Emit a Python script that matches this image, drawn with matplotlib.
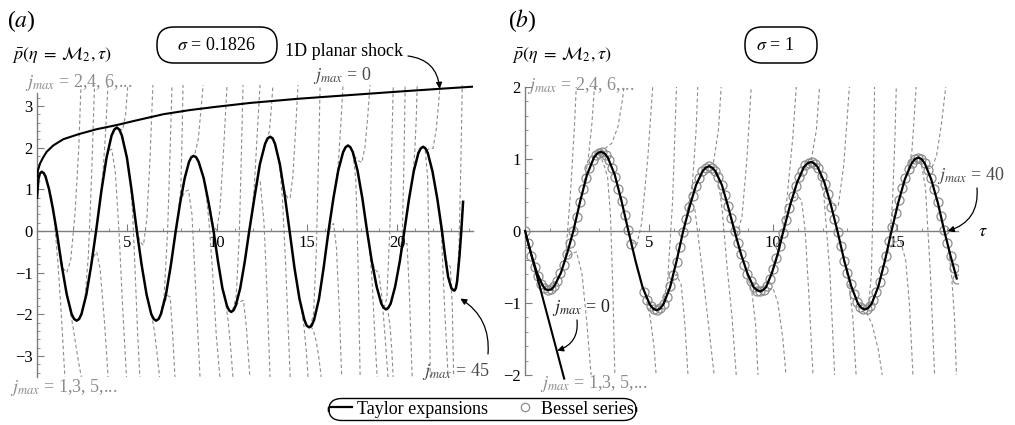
import matplotlib.pyplot as plt
from matplotlib.patches import FancyBboxPatch
from matplotlib.lines import Line2D
from matplotlib.ticker import MultipleLocator, FixedLocator

plt.rcParams['font.family'] = ['Liberation Serif', 'DejaVu Serif']
plt.rcParams['mathtext.fontset'] = 'stix'

# ---- panel (a): sigma = 0.1826, Taylor expansion j_max = 45
tau_a = [0, 0.08, 0.16, 0.26, 0.37, 0.47, 0.67, 0.88, 1.09, 1.37, 1.65, 1.92, 2.06, 2.2, 2.34,
         2.47, 2.74, 3.01, 3.28, 3.57, 3.86, 4.14, 4.29, 4.43, 4.57, 4.71, 4.99, 5.26, 5.54,
         5.81, 6.08, 6.34, 6.48, 6.61, 6.75, 6.88, 7.16, 7.43, 7.7, 7.95, 8.2, 8.44, 8.57, 8.69,
         8.83, 8.97, 9.25, 9.52, 9.8, 10.05, 10.29, 10.54, 10.66, 10.78, 10.91, 11.03, 11.28,
         11.53, 11.78, 12.09, 12.37, 12.66, 12.8, 12.94, 13.08, 13.21, 13.48, 13.75, 14.02,
         14.29, 14.57, 14.84, 14.97, 15.11, 15.24, 15.38, 15.65, 15.91, 16.18, 16.45, 16.72,
         16.99, 17.13, 17.26, 17.39, 17.53, 17.79, 18.06, 18.32, 18.58, 18.85, 19.11, 19.24,
         19.37, 19.5, 19.63, 19.88, 20.14, 20.39, 20.65, 20.91, 21.17, 21.3, 21.43, 21.56,
         21.69, 21.95, 22.22, 22.48, 22.65, 22.82, 23.0, 23.09, 23.17, 23.25, 23.32, 23.45,
         23.55, 23.65]
p_a = [0.80, 1.25, 1.38, 1.42, 1.39, 1.31, 1.0, 0.54, 0, -0.82, -1.52, -1.99, -2.11, -2.15, -2.11,
       -1.99, -1.52, -0.82, 0, 0.95, 1.76, 2.29, 2.43, 2.48, 2.43, 2.29, 1.76, 0.95, 0,
       -0.82, -1.52, -1.99, -2.11, -2.15, -2.11, -1.99, -1.52, -0.82, 0, 0.69, 1.27, 1.66, 1.77, 1.80,
       1.77, 1.66, 1.27, 0.69, 0, -0.74, -1.37, -1.79, -1.90, -1.94, -1.90, -1.79, -1.37,
       -0.74, 0, 0.86, 1.60, 2.09, 2.22, 2.26, 2.22, 2.09, 1.60, 0.86, 0,
       -0.88, -1.63, -2.13, -2.27, -2.31, -2.27, -2.13, -1.63, -0.88, 0, 0.78, 1.45,
       1.89, 2.01, 2.05, 2.01, 1.89, 1.45, 0.78, 0, -0.72, -1.33, -1.74, -1.84,
       -1.88, -1.84, -1.74, -1.33, -0.72, 0, 0.77, 1.43, 1.87, 1.98, 2.02, 1.98,
       1.87, 1.43, 0.77, 0, -0.6, -1.1, -1.37, -1.41, -1.43, -1.37, -1.2, -0.6,
       0.0, 0.70]

# 1D planar shock (j_max = 0)
tau_shock = [0, 0.05, 0.17, 0.35, 0.54, 0.9, 1.46, 2.3, 3.31, 4.43, 5.5, 7.02, 8.5, 9.8,
             11.83, 14.5, 17.4, 20.0, 22.4, 24.2]
p_shock = [1.3, 1.45, 1.62, 1.77, 1.9, 2.05, 2.2, 2.32, 2.44, 2.54, 2.65, 2.80, 2.90, 2.97,
           3.07, 3.17, 3.26, 3.34, 3.41, 3.46]

# lower order truncations, even j_max (diverge upwards)
trunc_a_up = [
    [(1.24, -0.45), (1.46, -0.9), (1.65, -1.0), (1.87, -0.7), (2.11, 0.42), (2.32, 2.0), (2.45, 3.6)],
    [(2.45, -2.02), (2.65, -1.7), (2.85, -0.6), (3.02, 1.2), (3.2, 3.6)],
    [(3.5, 0.75), (3.65, 1.35), (3.8, 2.3), (3.95, 3.6)],
    [(4.55, 2.45), (4.75, 2.42), (4.92, 2.8), (5.06, 3.6)],
    [(5.45, 0.3), (5.7, -0.25), (5.91, -0.34), (6.1, 0.3), (6.28, 1.8), (6.44, 3.6)],
    [(6.85, -2.0), (7.05, -1.6), (7.25, 0.0), (7.38, 1.8), (7.5, 3.6)],
    [(7.85, 0.45), (7.98, 1.0), (8.05, 2.2), (8.11, 3.6)],
    [(8.55, 1.75), (8.75, 1.82), (8.95, 2.2), (9.1, 2.9), (9.24, 3.6)],
    [(9.55, 0.65), (9.8, 0.1), (9.98, 0.02), (10.15, 0.5), (10.35, 1.9), (10.56, 3.6)],
    [(10.85, -1.9), (11.05, -1.6), (11.22, -0.2), (11.33, 1.6), (11.44, 3.6)],
    [(11.9, 0.3), (12.05, 1.0), (12.22, 2.3), (12.39, 3.6)],
    [(12.75, 2.17), (12.9, 2.4), (13.0, 2.9), (13.11, 3.6)],
    [(13.7, 1.0), (13.9, 0.8), (14.05, 0.78), (14.2, 1.3), (14.35, 2.4), (14.5, 3.6)],
    [(15.15, -2.3), (15.35, -2.0), (15.5, -0.5), (15.62, 1.6), (15.72, 3.6)],
    [(16.55, 1.0), (16.72, 1.6), (16.87, 2.6), (17.0, 3.6)],
    [(17.6, 1.8), (17.85, 1.68), (18.03, 1.64), (18.2, 2.0), (18.35, 2.7), (18.5, 3.6)],
    [(19.25, -1.85), (19.42, -1.6), (19.58, 0.0), (19.68, 1.8), (19.78, 3.6)],
    [(20.15, -0.65), (20.28, 0.0), (20.36, 1.5), (20.44, 3.6)],
    [(20.85, 1.3), (20.97, 1.9), (21.05, 2.7), (21.11, 3.6)],
    [(21.6, 1.93), (21.8, 1.98), (21.98, 1.98), (22.15, 2.4), (22.28, 3.0), (22.39, 3.6)],
    [(23.3, -1.3), (23.42, -0.4), (23.52, 1.5), (23.61, 3.6)],
]
# odd j_max (diverge downwards)
trunc_a_down = [
    [(0.8, 0.82), (0.95, 0.3), (1.15, -0.7), (1.35, -2.0), (1.56, -3.6)],
    [(1.75, -1.7), (2.0, -2.3), (2.25, -3.0), (2.5, -3.6)],
    [(2.8, -1.35), (3.1, -0.65), (3.31, -0.5), (3.5, -0.9), (3.75, -2.2), (3.96, -3.6)],
    [(3.85, 1.8), (4.0, 1.93), (4.15, 1.96), (4.35, 1.4), (4.55, 0.0), (4.75, -1.8), (4.98, -3.6)],
    [(5.15, 1.28), (5.3, 0.5), (5.45, -1.0), (5.58, -2.4), (5.72, -3.6)],
    [(6.35, -2.0), (6.52, -2.4), (6.68, -3.0), (6.83, -3.6)],
    [(6.9, -1.98), (7.1, -1.7), (7.25, -1.55), (7.39, -1.58), (7.52, -2.4), (7.67, -3.6)],
    [(7.95, 0.69), (8.2, 0.95), (8.41, 0.98), (8.6, 0.4), (8.82, -1.5), (9.06, -3.6)],
    [(9.35, 1.05), (9.55, 0.2), (9.75, -1.0), (9.95, -2.5), (10.17, -3.6)],
    [(10.45, -1.63), (10.62, -2.2), (10.77, -2.9), (10.89, -3.6)],
    [(11.03, -1.79), (11.25, -1.7), (11.46, -1.66), (11.62, -2.3), (11.83, -3.6)],
    [(12.0, 0.62), (12.2, 1.1), (12.39, 1.18), (12.6, 0.2), (12.78, -1.6), (12.94, -3.6)],
    [(13.45, 1.65), (13.62, 0.8), (13.8, -0.8), (13.95, -2.4), (14.06, -3.6)],
    [(14.65, -1.78), (14.82, -2.3), (14.95, -2.9), (15.06, -3.6)],
    [(15.2, -2.28), (15.35, -2.4), (15.5, -2.65), (15.65, -3.05), (15.8, -3.6)],
    [(16.1, -0.27), (16.3, 0.12), (16.46, 0.18), (16.62, -0.4), (16.78, -1.9), (16.92, -3.6)],
    [(17.55, 1.85), (17.7, 1.2), (17.82, -0.8), (17.94, -3.6)],
    [(18.45, -0.36), (18.6, -1.2), (18.75, -2.5), (18.89, -3.6)],
    [(18.55, -0.65), (18.75, -0.92), (18.96, -1.0), (19.15, -1.6), (19.33, -2.6), (19.5, -3.6)],
    [(19.45, -1.82), (19.6, -2.3), (19.7, -2.9), (19.78, -3.6)],
    [(20.2, -0.55), (20.38, -0.3), (20.54, -0.3), (20.68, -1.6), (20.83, -3.6)],
    [(21.55, 1.93), (21.68, 1.3), (21.76, -0.6), (21.83, -3.6)],
    [(22.25, 0.68), (22.45, -0.1), (22.62, -1.8), (22.83, -3.6)],
    [(22.55, -0.25), (22.75, -0.75), (22.94, -0.86), (23.05, -1.8), (23.13, -3.6)],
]

# ---- panel (b): sigma = 1, Taylor expansion j_max = 40
tau_b = [0, 0.24, 0.47, 0.7, 0.82, 0.94, 1.07, 1.19, 1.45, 1.7, 1.95, 2.23, 2.5, 2.78, 2.92, 3.06,
         3.2, 3.34, 3.62, 3.89, 4.17, 4.46, 4.74, 5.03, 5.17, 5.31, 5.44, 5.58, 5.85, 6.11, 6.38,
         6.64, 6.9, 7.16, 7.29, 7.42, 7.55, 7.68, 7.94, 8.19, 8.45, 8.71, 8.97, 9.22, 9.35, 9.48,
         9.6, 9.72, 9.95, 10.19, 10.42, 10.7, 10.98, 11.25, 11.39, 11.53, 11.66, 11.8, 12.07,
         12.33, 12.6, 12.88, 13.16, 13.43, 13.57, 13.71, 13.84, 13.98, 14.25, 14.51, 14.78,
         15.05, 15.32, 15.59, 15.73, 15.86, 15.99, 16.12, 16.38, 16.65, 16.91, 17.15, 17.41]
p_b = [0, -0.31, -0.57, -0.75, -0.81, -0.82, -0.81, -0.76, -0.58, -0.31, 0, 0.42, 0.78, 1.02, 1.08,
       1.10, 1.08, 1.02, 0.78, 0.42, 0, -0.42, -0.78, -1.02, -1.08, -1.10, -1.08, -1.02, -0.78,
       -0.42, 0, 0.34, 0.64, 0.83, 0.88, 0.90, 0.88, 0.83, 0.64, 0.34, 0, -0.32, -0.59, -0.78,
       -0.82, -0.84, -0.82, -0.78, -0.59, -0.32, 0, 0.37, 0.68, 0.89, 0.94, 0.96, 0.94, 0.89,
       0.68, 0.37, 0, -0.42, -0.77, -1.01, -1.07, -1.09, -1.07, -1.01, -0.77, -0.42, 0, 0.39,
       0.72, 0.94, 1.00, 1.02, 1.00, 0.94, 0.72, 0.39, 0, -0.33, -0.66]

# Bessel series samples
tau_bessel = [0, 0.13, 0.26, 0.39, 0.52, 0.65, 0.78, 0.91, 1.04, 1.17, 1.30, 1.43, 1.56, 1.69, 1.82,
              1.95, 2.08, 2.21, 2.34, 2.47, 2.60, 2.73, 2.86, 2.99, 3.12, 3.25, 3.38, 3.51, 3.64,
              3.77, 3.90, 4.03, 4.16, 4.29, 4.81, 4.94, 5.07, 5.20, 5.33, 5.46, 5.59, 5.72, 5.85,
              5.98, 6.11, 6.24, 6.37, 6.50, 6.63, 6.76, 6.89, 7.02, 7.15, 7.28, 7.41, 7.54, 7.67,
              7.80, 7.93, 8.06, 8.19, 8.32, 8.45, 8.58, 8.71, 8.84, 8.97, 9.10, 9.23, 9.36, 9.49,
              9.62, 9.75, 9.88, 10.01, 10.14, 10.27, 10.40, 10.53, 10.66, 10.79, 10.92, 11.05,
              11.18, 11.31, 11.44, 11.57, 11.70, 11.83, 11.96, 12.09, 12.22, 12.35, 12.48, 12.61,
              12.74, 12.87, 13.00, 13.13, 13.26, 13.39, 13.52, 13.65, 13.78, 13.91, 14.04, 14.17,
              14.30, 14.43, 14.56, 14.69, 14.82, 14.95, 15.08, 15.21, 15.34, 15.47, 15.60, 15.73,
              15.86, 15.99, 16.12, 16.25, 16.38, 16.51, 16.64, 16.77, 16.90, 17.03, 17.16, 17.29,
              17.42]
p_bessel = [0, -0.17, -0.35, -0.50, -0.63, -0.73, -0.79, -0.82, -0.81, -0.77, -0.69, -0.59, -0.47,
            -0.32, -0.16, 0.0, 0.20, 0.40, 0.58, 0.74, 0.88, 0.98, 1.06, 1.09, 1.10, 1.06, 0.99,
            0.88, 0.75, 0.59, 0.41, 0.22, 0.02, -0.18, -0.85, -0.96, -1.04, -1.09, -1.10, -1.07,
            -1.01, -0.91, -0.77, -0.61, -0.43, -0.22, -0.02, 0.16, 0.33, 0.49, 0.63, 0.74, 0.83,
            0.88, 0.90, 0.88, 0.84, 0.75, 0.64, 0.50, 0.35, 0.18, 0.0, -0.17, -0.32, -0.47, -0.60,
            -0.70, -0.78, -0.83, -0.84, -0.82, -0.76, -0.66, -0.53, -0.38, -0.21, -0.03, 0.15,
            0.32, 0.48, 0.62, 0.75, 0.84, 0.91, 0.95, 0.96, 0.93, 0.87, 0.77, 0.65, 0.51, 0.34,
            0.17, -0.01, -0.21, -0.41, -0.58, -0.74, -0.88, -0.98, -1.05, -1.09, -1.08, -1.04,
            -0.96, -0.85, -0.71, -0.54, -0.35, -0.14, 0.06, 0.25, 0.43, 0.60, 0.74, 0.86, 0.95,
            1.00, 1.02, 1.00, 0.94, 0.85, 0.73, 0.58, 0.40, 0.21, 0.02, -0.17, -0.35, -0.51, -0.66]

# j_max = 0 for sigma = 1
tau_j0 = [0, 1.58]
p_j0 = [0, -2.05]

trunc_b_up = [
    [(1.45, -0.6), (1.65, -0.3), (1.85, 0.6), (2.0, 1.5), (2.08, 2.1)],
    [(2.35, 0.6), (2.55, 1.0), (2.7, 1.5), (2.82, 2.1)],
    [(3.0, 1.1), (3.25, 1.15), (3.5, 1.22), (3.75, 1.45), (3.92, 1.8), (4.03, 2.1)],
    [(4.3, -0.15), (4.5, -0.2), (4.7, 0.1), (4.95, 1.0), (5.17, 2.1)],
    [(5.55, -1.03), (5.75, -0.7), (5.95, 0.4), (6.12, 2.1)],
    [(6.55, 0.24), (6.75, 0.65), (6.9, 1.4), (6.98, 2.1)],
    [(7.4, 0.9), (7.6, 0.95), (7.8, 1.4), (7.93, 2.1)],
    [(8.3, 0.2), (8.55, -0.05), (8.75, 0.2), (8.95, 1.0), (9.14, 2.1)],
    [(9.95, -0.6), (10.25, -0.3), (10.55, 0.4), (10.8, 1.3), (10.96, 2.1)],
    [(11.35, 0.92), (11.55, 1.0), (11.75, 1.4), (11.9, 2.1)],
    [(12.2, 0.52), (12.45, 0.36), (12.63, 0.34), (12.85, 0.9), (13.0, 1.6), (13.1, 2.1)],
    [(13.85, -1.05), (13.97, -0.6), (14.05, 0.6), (14.1, 2.1)],
    [(14.7, -0.14), (14.82, 0.4), (14.92, 1.3), (14.98, 2.1)],
    [(15.45, 0.85), (15.6, 1.1), (15.7, 1.6), (15.79, 2.1)],
    [(16.2, 0.87), (16.4, 0.87), (16.6, 1.05), (16.8, 1.5), (17.0, 2.1)],
]
trunc_b_down = [
    [(1.6, -0.42), (1.85, -0.32), (2.08, -0.29), (2.3, -0.6), (2.5, -1.3), (2.69, -2.1)],
    [(3.0, 1.08), (3.2, 0.9), (3.33, 0.75), (3.45, 0.2), (3.55, -0.9), (3.63, -2.1)],
    [(4.85, -0.9), (5.05, -1.2), (5.2, -1.6), (5.31, -2.1)],
    [(5.85, -0.78), (6.1, -0.6), (6.3, -0.75), (6.45, -1.3), (6.59, -2.1)],
    [(6.45, 0.12), (6.65, 0.46), (6.85, 0.3), (7.1, -0.4), (7.4, -1.3), (7.66, -2.1)],
    [(7.75, 0.8), (7.95, 0.3), (8.15, -0.5), (8.35, -1.2), (8.54, -2.1)],
    [(8.95, -0.6), (9.15, -0.85), (9.3, -1.3), (9.41, -2.1)],
    [(9.55, -0.83), (9.8, -0.8), (10.01, -0.8), (10.2, -1.0), (10.4, -1.5), (10.55, -2.1)],
    [(10.8, 0.46), (11.0, 0.48), (11.15, 0.43), (11.3, 0.0), (11.45, -0.9), (11.63, -2.1)],
    [(11.85, 0.86), (12.05, 0.5), (12.3, -0.6), (12.5, -2.1)],
    [(12.85, -0.4), (13.05, -0.7), (13.22, -1.2), (13.37, -2.1)],
    [(13.6, -1.07), (13.8, -1.15), (14.0, -1.3), (14.25, -1.65), (14.45, -2.1)],
    [(14.6, -0.3), (14.9, -0.15), (15.15, -0.15), (15.35, -0.4), (15.5, -1.0), (15.66, -2.1)],
    [(15.95, 1.0), (16.15, 0.6), (16.35, -0.6), (16.53, -2.1)],
    [(17.05, -0.18), (17.2, -0.6), (17.32, -1.2), (17.41, -2.1)],
]

# ---------------- figure
W, H = 1015, 425
fig = plt.figure(figsize=(W / 100, H / 100), dpi=100)


def fx(x):
    return x / W


def fy(y):
    return 1 - y / H


GRAY = '#8c8c8c'
AXC = '#7d7d7d'
DARK = '#4a4a4a'
DASH = (0, (3.2, 2.4))


def setup(ax, xmax, ymin, ymax, ytop, xt, yt, yminor):
    ax.set_xlim(0, xmax)
    ax.set_ylim(ymin, ymax)
    ax.patch.set_visible(False)
    ax.spines['top'].set_visible(False)
    ax.spines['right'].set_visible(False)
    ax.spines['bottom'].set_position(('data', 0))
    ax.spines['left'].set_bounds(ymin, ytop)
    for s in ('bottom', 'left'):
        ax.spines[s].set_color(AXC)
        ax.spines[s].set_linewidth(1.0)
    ax.set_xticks(xt)
    ax.set_yticks(yt)
    ax.xaxis.set_minor_locator(MultipleLocator(1))
    ax.yaxis.set_minor_locator(FixedLocator(yminor))
    ax.tick_params(which='major', direction='in', length=5, width=0.8, color=AXC,
                   labelsize=12, pad=3)
    ax.tick_params(which='minor', direction='in', length=2.5, width=0.6, color=AXC)


ax1 = fig.add_axes([fx(37), fy(377), fx(473) - fx(37), fy(85) - fy(377)])
ax2 = fig.add_axes([fx(525), fy(375), fx(957.7) - fx(525), fy(87) - fy(375)])

setup(ax1, 24.2, -3.5, 3.5, 3.3, [5, 10, 15, 20], [-3, -2, -1, 0, 1, 2, 3],
      [k / 5 for k in range(-17, 17)])
setup(ax2, 17.45, -2, 2, 2, [5, 10, 15], [-2, -1, 0, 1, 2],
      [k / 5 for k in range(-10, 11)])

for seg in trunc_a_up + trunc_a_down:
    t, p = zip(*seg)
    ax1.plot(t, p, color=GRAY, lw=0.8, ls=DASH, zorder=1)
ax1.plot(tau_shock, p_shock, color='k', lw=1.5, zorder=3)
ax1.plot(tau_a, p_a, color='k', lw=1.8, zorder=4)

for seg in trunc_b_up + trunc_b_down:
    t, p = zip(*seg)
    ax2.plot(t, p, color=GRAY, lw=0.8, ls=DASH, zorder=1)
ax2.plot(tau_bessel, p_bessel, ls='none', marker='o', ms=6.5, mfc='none', mec=GRAY, mew=0.9,
         zorder=3)
ax2.plot(tau_b, p_b, color='k', lw=1.6, zorder=4)
ax2.plot(tau_j0, p_j0, color='k', lw=1.5, zorder=4, clip_on=False)

# arrows
arrow = dict(arrowstyle='-|>', color='k', lw=0.9, mutation_scale=9, shrinkA=0, shrinkB=0)
ax1.annotate('', xy=(22.35, 3.41), xytext=(fx(408), fy(56)), textcoords='figure fraction',
             arrowprops=dict(arrow, connectionstyle='arc3,rad=-0.4'), annotation_clip=False)
ax1.annotate('', xy=(23.5, -1.62), xytext=(fx(488), fy(354)), textcoords='figure fraction',
             arrowprops=dict(arrow, connectionstyle='arc3,rad=0.3'), annotation_clip=False)
ax2.annotate('', xy=(17.05, 0.0), xytext=(fx(977), fy(188)), textcoords='figure fraction',
             arrowprops=dict(arrow, connectionstyle='arc3,rad=-0.4'), annotation_clip=False)
ax2.annotate('', xy=(1.3, -1.66), xytext=(fx(577), fy(320)), textcoords='figure fraction',
             arrowprops=dict(arrow, connectionstyle='arc3,rad=-0.4'), annotation_clip=False)

# sigma boxes
for x0, w in [(157, 120), (745, 72)]:
    fig.add_artist(FancyBboxPatch((x0 / 100, (H - 63) / 100), w / 100, 0.36,
                                  boxstyle='round,pad=0,rounding_size=0.17',
                                  transform=fig.dpi_scale_trans, fc='white', ec='k', lw=1.1))
fig.text(fx(217), fy(45), r'$\sigma$ = 0.1826', fontsize=13, ha='center', va='center')
fig.text(fx(775), fy(45), r'$\sigma$ = 1', fontsize=13, ha='center', va='center')

# labels
fig.text(fx(21), fy(21), r'($a$)', fontsize=17, ha='center', va='center')
fig.text(fx(522), fy(21), r'($b$)', fontsize=17, ha='center', va='center')
ylab = r'$\bar{p}(\eta\;=\;\mathcal{M}_2,\tau)$'
fig.text(fx(12), fy(55), ylab, fontsize=13, ha='left', va='center')
fig.text(fx(512), fy(55), ylab, fontsize=13, ha='left', va='center')
fig.text(fx(285), fy(52), '1D planar shock', fontsize=13, ha='left', va='center')
fig.text(fx(983), fy(231), r'$\tau$', fontsize=13, ha='center', va='center')

jm = r'$j_{max}$'
fig.text(fx(313), fy(80), jm + ' = 0', fontsize=13, color=DARK, va='baseline')
fig.text(fx(25), fy(87), jm + ' = 2,4, 6,...', fontsize=13, color=GRAY, va='baseline')
fig.text(fx(527), fy(90), jm + ' = 2,4, 6,...', fontsize=13, color=GRAY, va='baseline')
fig.text(fx(10), fy(392), jm + ' = 1,3, 5,...', fontsize=13, color=GRAY, va='baseline')
fig.text(fx(540), fy(388), jm + ' = 1,3, 5,...', fontsize=13, color=GRAY, va='baseline')
fig.text(fx(422), fy(376), jm + ' = 45', fontsize=13, color=DARK, va='baseline')
fig.text(fx(937), fy(180), jm + ' = 40', fontsize=13, color=DARK, va='baseline')
fig.text(fx(552), fy(312), jm + ' = 0', fontsize=13, color='#222222', va='baseline')

# legend
handles = [Line2D([], [], color='k', lw=1.6),
           Line2D([], [], ls='none', marker='o', ms=6, mfc='none', mec=GRAY, mew=0.9)]
leg = fig.legend(handles, ['Taylor expansions', 'Bessel series'], loc='center',
                 bbox_to_anchor=(fx(482), fy(409)), ncol=2, fontsize=13, frameon=True,
                 fancybox=True, handlelength=1.2, handletextpad=0.3, columnspacing=1.4,
                 borderpad=0.15, borderaxespad=0)
fr = leg.get_frame()
fr.set_edgecolor('k')
fr.set_linewidth(1.0)
fr.set_alpha(1)
fr.set_boxstyle('round', pad=0.0, rounding_size=0.75)

fig.savefig('out.png', dpi=100)
